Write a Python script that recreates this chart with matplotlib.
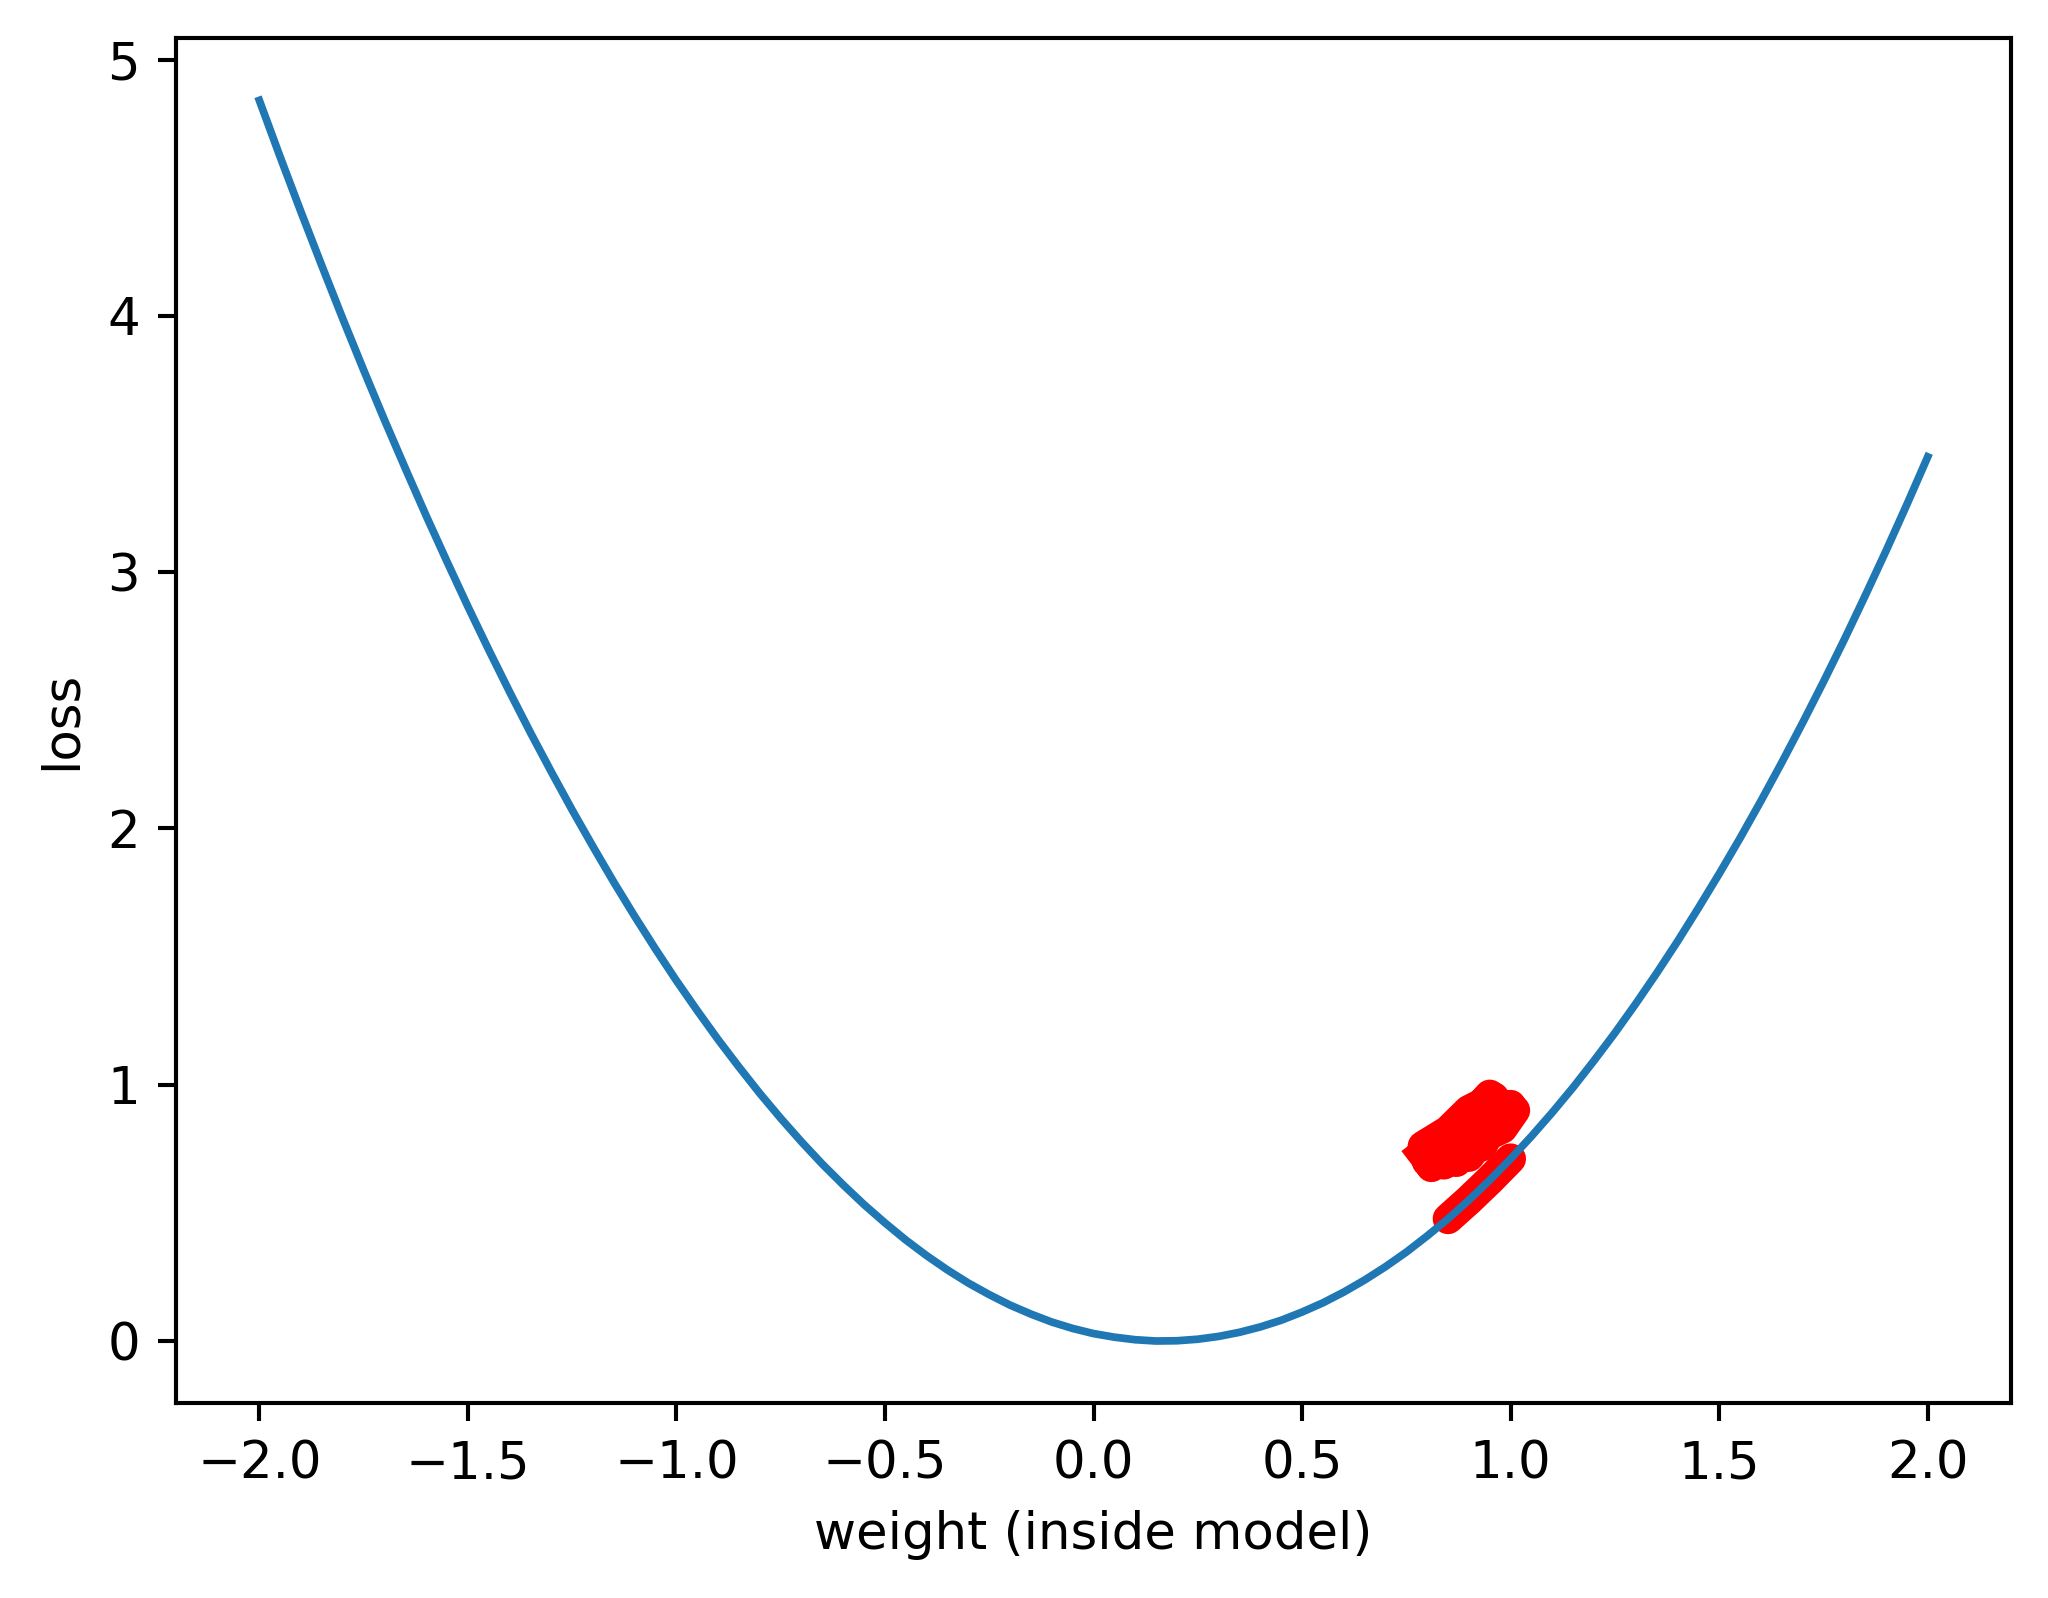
import matplotlib
matplotlib.use("Agg")
import matplotlib.pyplot as plt

# loss curve, weight step 0.05
weights = [-2.0 + 0.05 * i for i in range(81)]
losses = [4.841, 4.620, 4.405, 4.195, 3.989, 3.789, 3.594, 3.405, 3.220, 3.041,
          2.866, 2.697, 2.533, 2.374, 2.221, 2.072, 1.929, 1.790, 1.657, 1.529,
          1.406, 1.289, 1.176, 1.069, 0.966, 0.869, 0.777, 0.690, 0.609, 0.532,
          0.461, 0.394, 0.333, 0.277, 0.226, 0.181, 0.140, 0.105, 0.074, 0.049,
          0.029, 0.015, 0.005, 0.000, 0.001, 0.007, 0.018, 0.034, 0.055, 0.081,
          0.113, 0.149, 0.191, 0.238, 0.290, 0.347, 0.410, 0.477, 0.550, 0.628,
          0.711, 0.799, 0.892, 0.990, 1.094, 1.202, 1.316, 1.435, 1.559, 1.689,
          1.823, 1.962, 2.107, 2.257, 2.412, 2.572, 2.737, 2.908, 3.083, 3.264,
          3.450]

# red stroke along the curve
trail_w = [0.85, 0.90, 0.95, 1.00]
trail_l = [0.477, 0.550, 0.628, 0.711]

# red scribble above the curve
scrib_w = [0.79, 0.83, 0.80, 0.85, 0.82, 0.88, 0.84, 0.90, 0.87, 0.93, 0.89, 0.95,
           0.92, 0.97, 0.94, 1.00, 0.96, 1.01, 0.98, 0.94, 0.97, 0.93, 0.95, 0.90,
           0.92, 0.87, 0.89, 0.84, 0.86, 0.81, 0.83, 0.79, 0.85, 0.90, 0.96, 0.99,
           0.93, 0.88, 0.82]
scrib_l = [0.73, 0.78, 0.70, 0.80, 0.74, 0.84, 0.77, 0.88, 0.81, 0.92, 0.85, 0.96,
           0.88, 0.93, 0.84, 0.92, 0.87, 0.90, 0.83, 0.80, 0.87, 0.76, 0.83, 0.72,
           0.80, 0.70, 0.77, 0.69, 0.75, 0.68, 0.72, 0.76, 0.82, 0.90, 0.95, 0.86,
           0.79, 0.73, 0.71]

fig = plt.figure(figsize=(2048 / 370, 1598 / 370), dpi=370)
ax = fig.add_axes([0.0859, 0.122, 0.982 - 0.0859, 0.976 - 0.122])

ax.plot(trail_w, trail_l, color="red", linewidth=6, solid_capstyle="round", zorder=1)
ax.plot(scrib_w, scrib_l, color="red", linewidth=6, solid_joinstyle="round", zorder=1)
ax.plot(weights, losses, color="#1f77b4", linewidth=1.5, zorder=2)

ax.set_xlabel("weight (inside model)")
ax.set_ylabel("loss")

fig.savefig("out.png", dpi=370)
